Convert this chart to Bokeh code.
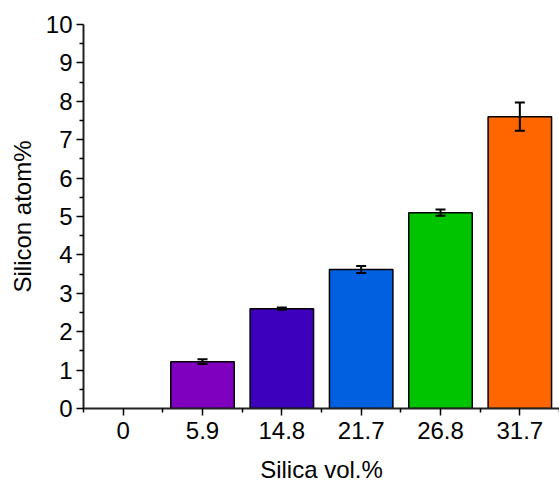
from bokeh.plotting import figure
from bokeh.models import ColumnDataSource, FixedTicker, Whisker, TeeHead, Range1d
from bokeh.embed import file_html
from bokeh.resources import INLINE

categories = ["0", "5.9", "14.8", "21.7", "26.8", "31.7"]
values = [0.0, 1.22, 2.6, 3.62, 5.1, 7.6]
errors = [0.0, 0.06, 0.03, 0.09, 0.08, 0.37]
colors = ["#FFFFFF", "#8000C0", "#3D00BD", "#0060E0", "#00C400", "#FF6600"]
y_ticks = list(range(0, 11))

xs = list(range(len(categories)))
err_src = ColumnDataSource(dict(
    x=xs[1:], upper=[v + e for v, e in zip(values[1:], errors[1:])],
    lower=[v - e for v, e in zip(values[1:], errors[1:])],
))

p = figure(width=559, height=485, output_backend="svg", toolbar_location=None,
           x_range=Range1d(-0.5, 5.5), y_range=Range1d(0, 10),
           min_border_left=83, min_border_right=0, min_border_top=24, min_border_bottom=77)
p.outline_line_color = None
p.grid.grid_line_color = None

p.vbar(x="x", top="top", width=0.8, bottom=0, source=ColumnDataSource(dict(
    x=xs[1:], top=values[1:], color=colors[1:])), fill_color="color",
    line_color="black", line_width=1.5)

w = Whisker(base="x", upper="upper", lower="lower", source=err_src,
            line_color="black", line_width=2, level="overlay")
w.upper_head = TeeHead(size=10, line_color="black", line_width=2)
w.lower_head = TeeHead(size=10, line_color="black", line_width=2)
p.add_layout(w)

p.xaxis.ticker = FixedTicker(ticks=xs, minor_ticks=[x - 0.5 for x in xs] + [5.5])
p.xaxis.major_label_overrides = {i: c for i, c in enumerate(categories)}
p.yaxis.ticker = FixedTicker(ticks=y_ticks, minor_ticks=[t + 0.5 for t in y_ticks[:-1]])

for ax in (p.xaxis[0], p.yaxis[0]):
    ax.axis_line_width = 2
    ax.axis_line_color = "#222222"
    ax.major_tick_line_width = 1.5
    ax.minor_tick_line_width = 1.5
    ax.major_tick_out = 7
    ax.major_tick_in = 0
    ax.minor_tick_out = 4
    ax.minor_tick_in = 0
    ax.major_label_text_font = "Liberation Sans"
    ax.major_label_text_font_size = "24px"
    ax.major_label_text_color = "black"
    ax.axis_label_text_font = "Liberation Sans"
    ax.axis_label_text_font_size = "24px"
    ax.axis_label_text_font_style = "normal"
    ax.axis_label_text_color = "black"

p.xaxis.axis_label = "Silica vol.%"
p.yaxis.axis_label = "Silicon atom%"
p.xaxis.major_label_standoff = 6
p.xaxis.axis_label_standoff = 14
p.yaxis.major_label_standoff = 4
p.yaxis.axis_label_standoff = 7

open("out.html", "w").write(file_html(p, INLINE))
